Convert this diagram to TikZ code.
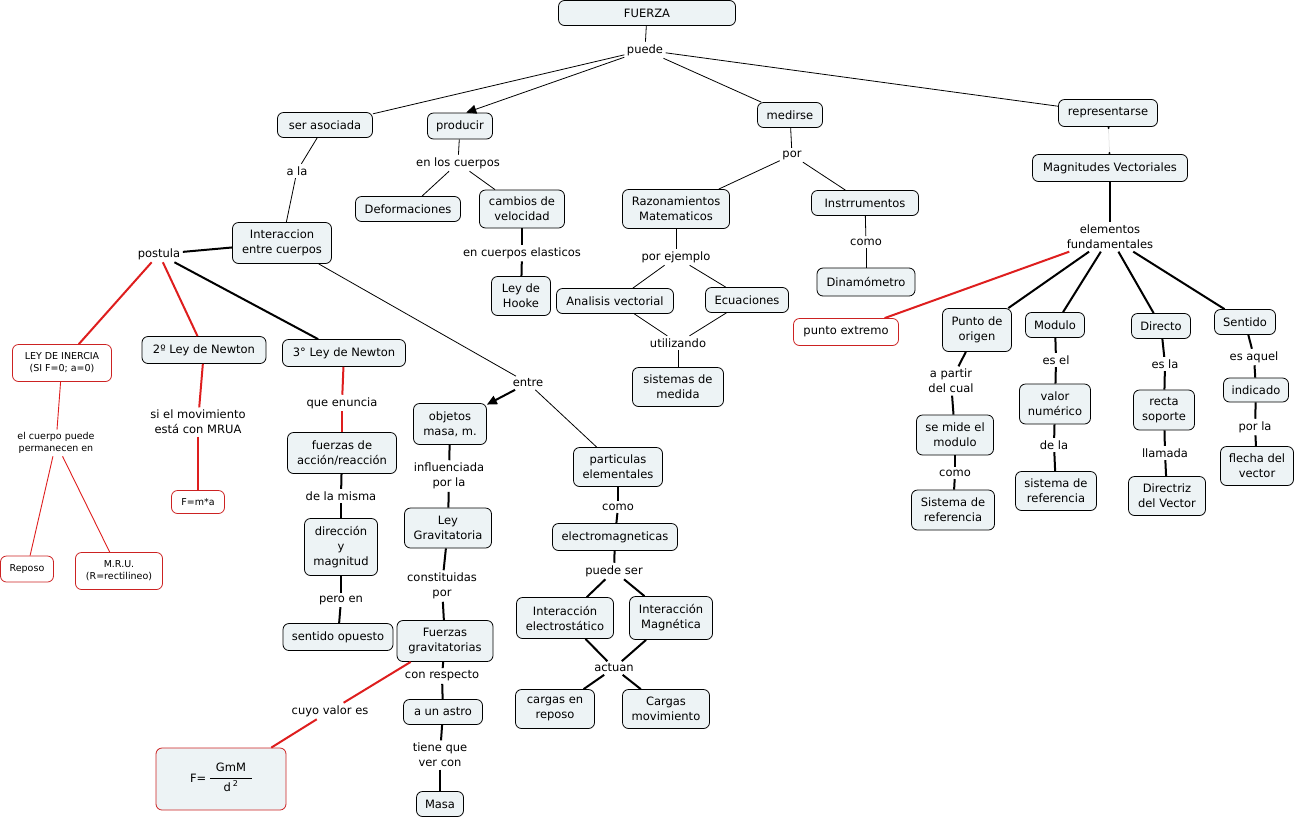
\documentclass[tikz,border=0pt]{standalone}
\usepackage{fontspec}
\setmainfont{DejaVu Sans}
\usepackage{tikz}
\usetikzlibrary{arrows.meta}
\definecolor{conceptfill}{RGB}{237,243,245}
\definecolor{conceptred}{RGB}{204,34,34}
\definecolor{linkred}{RGB}{222,30,30}
\newcommand{\mapfont}{\fontsize{11.5}{15}\selectfont}
\newcommand{\mapsmall}{\fontsize{9.5}{12}\selectfont}
\tikzstyle{concept} = [rectangle, rounded corners=6pt, draw=black, line width=0.8pt, fill=conceptfill, inner sep=2pt, align=center, font=\mapfont]
\tikzstyle{redconcept} = [concept, draw=conceptred, fill=white]
\tikzstyle{phrase} = [inner sep=2.5pt, align=center, font=\mapfont]
\tikzstyle{link} = [line width=0.8pt]
\tikzstyle{boldlink} = [line width=2pt]
\tikzstyle{redlink} = [line width=2pt, draw=linkred]
\tikzstyle{redthin} = [line width=0.9pt, draw=linkred]
\tikzstyle{arrow} = [-{Triangle[length=10pt,width=9pt]}]
\tikzstyle{faintlink} = [line width=0.5pt, draw=black!15, {Circle[length=2pt,color=black]}-{Circle[length=2pt,color=black]}]

\begin{document}
\begin{tikzpicture}[x=1pt, y=-1pt]
\useasboundingbox (0,0) rectangle (1297,820);

% Top
\node (fuerza) [concept, minimum width=177, minimum height=25] at (647,13) {FUERZA};
\node (puede) [phrase] at (645,50) {puede};
\node (serasoc) [concept, minimum width=95, minimum height=25] at (325,125) {ser asociada};
\node (producir) [concept, minimum width=65, minimum height=26] at (460,126) {producir};
\node (medirse) [concept, minimum width=65, minimum height=25] at (790,115) {medirse};
\node (repres) [concept, minimum width=99, minimum height=27] at (1108,113) {representarse};

% Producir
\node (enlos) [phrase] at (458,163) {en los cuerpos};
\node (deform) [concept, minimum width=105, minimum height=25] at (408,209) {Deformaciones};
\node (cambios) [concept, minimum width=85, minimum height=38] at (522,209) {cambios de\\velocidad};
\node (elasticos) [phrase] at (522,253) {en cuerpos elasticos};
\node (hooke) [concept, minimum width=59, minimum height=39] at (521,296) {Ley de\\Hooke};

% Interaccion
\node (ala) [phrase] at (297,171) {a la};
\node (interac) [concept, minimum width=99, minimum height=41] at (282,243) {Interaccion\\entre cuerpos};
\node (postula) [phrase] at (159,254) {postula};
\node (inercia) [redconcept, font=\mapsmall, minimum width=99, minimum height=37] at (62,363) {LEY DE INERCIA\\(SI F=0; a=0)};
\node (newton2) [concept, minimum width=124, minimum height=27] at (204,350) {2º Ley de Newton};
\node (newton3) [concept, minimum width=123, minimum height=27] at (344,353) {3° Ley de Newton};
\node (permanece) [phrase, font=\mapsmall] at (56,443) {el cuerpo puede\\permanecen en};
\node (reposo) [redconcept, font=\mapsmall, minimum width=53, minimum height=26] at (27,569) {Reposo};
\node (mru) [redconcept, font=\mapsmall, minimum width=87, minimum height=37] at (119,571) {M.R.U.\\(R=rectilineo)};
\node (mrua) [phrase] at (198,422) {si el movimiento\\está con MRUA};
\node (fma) [redconcept, font=\mapsmall, minimum width=53, minimum height=23] at (198,502) {F=m*a};
\node (enuncia) [phrase] at (342,403) {que enuncia};
\node (accion) [concept, minimum width=109, minimum height=41] at (342,453) {fuerzas de\\acción/reacción};
\node (misma) [phrase] at (341,496) {de la misma};
\node (direcc) [concept, minimum width=73, minimum height=57] at (341,547) {dirección\\y\\magnitud};
\node (peroen) [phrase] at (341,600) {pero en};
\node (sentop) [concept, minimum width=110, minimum height=27] at (338,637) {sentido opuesto};

% Entre
\node (entre) [phrase] at (528,383) {entre};
\node (objetos) [concept, minimum width=73, minimum height=41] at (450,424) {objetos\\masa, m.};
\node (influ) [phrase] at (449,476) {influenciada\\por la};
\node (leygrav) [concept, minimum width=87, minimum height=40] at (448,528) {Ley\\Gravitatoria};
\node (constit) [phrase] at (442,586) {constituidas\\por};
\node (fuergrav) [concept, minimum width=96, minimum height=41] at (445,641) {Fuerzas\\gravitatorias};
\node (respecto) [phrase] at (442,676) {con respecto};
\node (astro) [concept, minimum width=79, minimum height=25] at (443,712) {a un astro};
\node (vercon) [phrase] at (440,755) {tiene que\\ver con};
\node (masa) [concept, minimum width=47, minimum height=25] at (440,804) {Masa};
\node (cuyo) [phrase] at (330,711) {cuyo valor es};
\node (formula) [redconcept, fill=conceptfill, font=\fontsize{11.5}{13}\selectfont, minimum width=130, minimum height=62] at (221,779)
  {F=\ \begin{tabular}{@{\hspace{6pt}}c@{\hspace{6pt}}}GmM\\[2pt]\hline \rule{0pt}{13pt}d\,\textsuperscript{2}\end{tabular}};
\node (partic) [concept, minimum width=89, minimum height=39] at (618,467) {particulas\\elementales};
\node (como1) [phrase] at (618,507) {como};
\node (electro) [concept, minimum width=125, minimum height=27] at (615,537) {electromagneticas};
\node (puedeser) [phrase] at (614,571) {puede ser};
\node (intelec) [concept, minimum width=97, minimum height=41] at (565,618) {Interacción\\electrostático};
\node (intmag) [concept, minimum width=83, minimum height=43] at (671,618) {Interacción\\Magnética};
\node (actuan) [phrase] at (614,668) {actuan};
\node (cargrep) [concept, minimum width=79, minimum height=39] at (555,709) {cargas en\\reposo};
\node (cargmov) [concept, minimum width=87, minimum height=39] at (666,709) {Cargas\\movimiento};

% Medirse
\node (por) [phrase] at (792,155) {por};
\node (razon) [concept, minimum width=107, minimum height=39] at (676,209) {Razonamientos\\Matematicos};
\node (instr) [concept, minimum width=107, minimum height=25] at (865,203) {Instrrumentos};
\node (como2) [phrase] at (866,242) {como};
\node (dinam) [concept, minimum width=98, minimum height=28] at (866,282) {Dinamómetro};
\node (ejemplo) [phrase] at (676,257) {por ejemplo};
\node (analisis) [concept, minimum width=117, minimum height=25] at (615,301) {Analisis vectorial};
\node (ecuac) [concept, minimum width=83, minimum height=25] at (747,300) {Ecuaciones};
\node (utiliz) [phrase] at (678,343) {utilizando};
\node (sistmed) [concept, minimum width=91, minimum height=39] at (678,387) {sistemas de\\medida};

% Representarse
\node (magvec) [concept, minimum width=155, minimum height=27] at (1110,168) {Magnitudes Vectoriales};
\node (elementos) [phrase] at (1110,237) {elementos\\fundamentales};
\node (ptoext) [redconcept, minimum width=105, minimum height=27] at (846,332) {punto extremo};
\node (ptoorig) [concept, minimum width=69, minimum height=43] at (977,330) {Punto de\\origen};
\node (modulo) [concept, minimum width=59, minimum height=25] at (1055,325) {Modulo};
\node (directo) [concept, minimum width=59, minimum height=25] at (1161,326) {Directo};
\node (sentido) [concept, minimum width=61, minimum height=25] at (1245,322) {Sentido};
\node (apartir) [phrase] at (951,381) {a partir\\del cual};
\node (semide) [concept, minimum width=77, minimum height=40] at (955,435) {se mide el\\modulo};
\node (como3) [phrase] at (955,473) {como};
\node (sisref1) [concept, minimum width=83, minimum height=40] at (953,510) {Sistema de\\referencia};
\node (esel) [phrase] at (1056,360) {es el};
\node (valnum) [concept, minimum width=71, minimum height=40] at (1055,404) {valor\\numérico};
\node (dela) [phrase] at (1054,445) {de la};
\node (sisref2) [concept, minimum width=81, minimum height=39] at (1056,491) {sistema de\\referencia};
\node (esla) [phrase] at (1165,364) {es la};
\node (recta) [concept, minimum width=61, minimum height=40] at (1164,410) {recta\\soporte};
\node (llamada) [phrase] at (1165,453) {llamada};
\node (directriz) [concept, minimum width=77, minimum height=39] at (1167,496) {Directriz\\del Vector};
\node (esaquel) [phrase] at (1254,357) {es aquel};
\node (indicado) [concept, minimum width=65, minimum height=24] at (1256,390) {indicado};
\node (porla) [phrase] at (1255,427) {por la};
\node (flecha) [concept, minimum width=73, minimum height=39] at (1257,466) {flecha del\\vector};

% Links from the top
\draw [link] (fuerza) -- (puede);
\draw [link] (puede) -- (serasoc);
\draw [link, arrow] (puede) -- (producir.65);
\draw [link] (puede) -- (medirse);
\draw [link] (puede) -- (repres);
\draw [link] (producir) -- (enlos);
\draw [link] (enlos) -- (deform);
\draw [link] (enlos) -- (cambios);
\draw [boldlink] (cambios) -- (elasticos);
\draw [boldlink] (elasticos) -- (hooke);

% Links of the interaction
\draw [link] (serasoc) -- (ala);
\draw [link] (ala) -- (interac);
\draw [boldlink] (interac) -- (postula);
\draw [redlink] (postula) -- (inercia);
\draw [redlink] (postula) -- (newton2);
\draw [boldlink] (postula) -- (newton3);
\draw [redthin] (inercia) -- (permanece);
\draw [redthin] (permanece) -- (reposo);
\draw [redthin] (permanece) -- (mru);
\draw [redlink] (newton2) -- (mrua);
\draw [redlink] (mrua) -- (fma);
\draw [redlink] (newton3) -- (enuncia);
\draw [redlink] (enuncia) -- (accion);
\draw [boldlink] (accion) -- (misma);
\draw [boldlink] (misma) -- (direcc);
\draw [boldlink] (direcc) -- (peroen);
\draw [boldlink] (peroen) -- (sentop);
\draw [link] (interac) -- (entre);
\draw [boldlink, arrow] (entre) -- (objetos);
\draw [link] (entre) -- (partic);
\draw [boldlink] (objetos) -- (influ);
\draw [boldlink] (influ) -- (leygrav);
\draw [boldlink] (leygrav) -- (constit);
\draw [boldlink] (constit) -- (fuergrav);
\draw [boldlink] (fuergrav) -- (respecto);
\draw [boldlink] (respecto) -- (astro);
\draw [boldlink] (astro) -- (vercon);
\draw [boldlink] (vercon) -- (masa);
\draw [redlink] (fuergrav) -- (cuyo);
\draw [redlink] (cuyo) -- (formula);
\draw [boldlink] (partic) -- (como1);
\draw [boldlink] (como1) -- (electro);
\draw [boldlink] (electro) -- (puedeser);
\draw [boldlink] (puedeser) -- (intelec);
\draw [boldlink] (puedeser) -- (intmag);
\draw [boldlink] (intelec) -- (actuan);
\draw [boldlink] (intmag) -- (actuan);
\draw [boldlink] (actuan) -- (cargrep);
\draw [boldlink] (actuan) -- (cargmov);

% Links of measuring
\draw [link] (medirse) -- (por);
\draw [link] (por) -- (razon);
\draw [link] (por) -- (instr);
\draw [link] (instr) -- (como2);
\draw [link] (como2) -- (dinam);
\draw [link] (razon) -- (ejemplo);
\draw [link] (ejemplo) -- (analisis);
\draw [link] (ejemplo) -- (ecuac);
\draw [link] (analisis) -- (utiliz);
\draw [link] (ecuac) -- (utiliz);
\draw [link] (utiliz) -- (sistmed);

% Links of the vectors
\draw [faintlink] (repres) -- (magvec);
\draw [boldlink] (magvec) -- (elementos);
\draw [redlink] (elementos) -- (ptoext);
\draw [boldlink] (elementos) -- (ptoorig);
\draw [boldlink] (elementos) -- (modulo);
\draw [boldlink] (elementos) -- (directo);
\draw [boldlink] (elementos) -- (sentido);
\draw [boldlink] (ptoorig) -- (apartir);
\draw [boldlink] (apartir) -- (semide);
\draw [boldlink] (semide) -- (como3);
\draw [boldlink] (como3) -- (sisref1);
\draw [boldlink] (modulo) -- (esel);
\draw [boldlink] (esel) -- (valnum);
\draw [boldlink] (valnum) -- (dela);
\draw [boldlink] (dela) -- (sisref2);
\draw [boldlink] (directo) -- (esla);
\draw [boldlink] (esla) -- (recta);
\draw [boldlink] (recta) -- (llamada);
\draw [boldlink] (llamada) -- (directriz);
\draw [boldlink] (sentido) -- (esaquel);
\draw [boldlink] (esaquel) -- (indicado);
\draw [boldlink] (indicado) -- (porla);
\draw [boldlink] (porla) -- (flecha);

\end{tikzpicture}
\end{document}
